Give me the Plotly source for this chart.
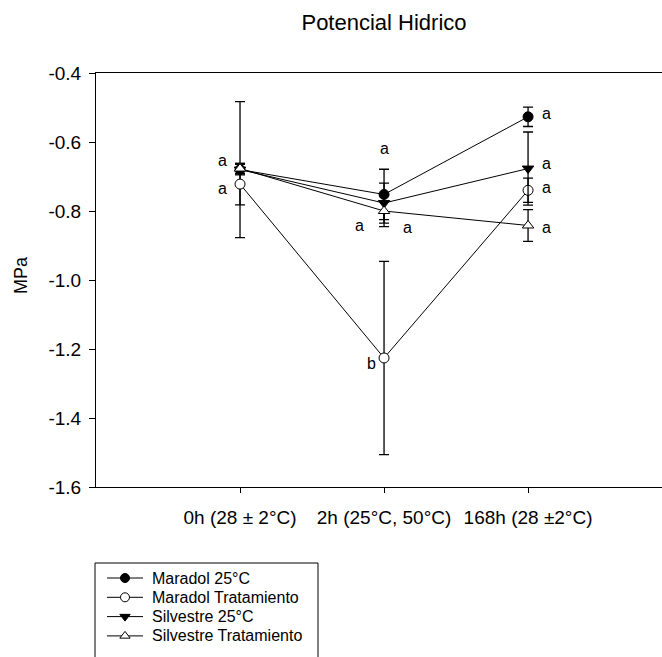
import plotly.graph_objects as go

categories = ["0h (28 ± 2°C)", "2h (25°C, 50°C)", "168h (28 ±2°C)"]
x_pos = [0, 1, 2]

y_ticks = [-1.6, -1.4, -1.2, -1.0, -0.8, -0.6, -0.4]
y_tick_labels = ["-1.6", "-1.4", "-1.2", "-1.0", "-0.8", "-0.6", "-0.4"]

series_names = ["Maradol 25°C", "Maradol Tratamiento", "Silvestre 25°C", "Silvestre Tratamiento"]
maradol_25 = [-0.68, -0.752, -0.527]
maradol_25_err = [0.197, 0.073, 0.028]
maradol_trat = [-0.722, -1.226, -0.74]
maradol_trat_err = [0.06, 0.28, 0.035]
silvestre_25 = [-0.68, -0.777, -0.677]
silvestre_25_err = [0.015, 0.058, 0.106]
silvestre_trat = [-0.677, -0.80, -0.842]
silvestre_trat_err = [0.015, 0.045, 0.046]

# significance letters
letter_x = [-0.125, -0.125, 1.0, 0.83, 1.16, 0.915, 2.13, 2.13, 2.13, 2.13]
letter_y = [-0.653, -0.735, -0.618, -0.842, -0.848, -1.243, -0.516, -0.662, -0.732, -0.848]
letter_t = ["a", "a", "a", "a", "a", "b", "a", "a", "a", "a"]

FONT = "Liberation Sans, Arial, sans-serif"
W, H = 662, 657

styles = [
    dict(symbol="circle", color="black"),
    dict(symbol="circle", color="white"),
    dict(symbol="triangle-down", color="black"),
    dict(symbol="triangle-up", color="white"),
]
values = [maradol_25, maradol_trat, silvestre_25, silvestre_trat]
errors = [maradol_25_err, maradol_trat_err, silvestre_25_err, silvestre_trat_err]

fig = go.Figure()
for name, vals, errs, st in zip(series_names, values, errors, styles):
    fig.add_trace(go.Scatter(
        x=x_pos, y=vals, name=name, mode="lines+markers", showlegend=False,
        line=dict(color="black", width=1),
        marker=dict(symbol=st["symbol"], color=st["color"], size=10,
                    line=dict(color="black", width=1)),
        error_y=dict(type="data", array=errs, visible=True, color="black",
                     thickness=1.3, width=5),
        xaxis="x", yaxis="y",
    ))

for lx, ly, lt in zip(letter_x, letter_y, letter_t):
    fig.add_annotation(x=lx, y=ly, text=lt, showarrow=False, xref="x", yref="y",
                       xanchor="center", yanchor="middle",
                       font=dict(family=FONT, size=16, color="black"))

# ---- legend drawn on a pixel-unit helper subplot (layout positions) ----
LEG_AREA_TOP = 552
leg_left, leg_top, leg_right = 95, 563, 318
row0, row_gap = 578, 19.3
sym_x0, sym_x1, text_x = 107, 143, 150
for i, (name, st) in enumerate(zip(series_names, styles)):
    ry = row0 + i * row_gap
    fig.add_trace(go.Scatter(
        x=[sym_x0, sym_x1], y=[ry, ry], mode="lines", showlegend=False,
        line=dict(color="black", width=1), xaxis="x2", yaxis="y2", hoverinfo="skip"))
    fig.add_trace(go.Scatter(
        x=[(sym_x0 + sym_x1) / 2], y=[ry], mode="markers", showlegend=False,
        marker=dict(symbol=st["symbol"], color=st["color"], size=9,
                    line=dict(color="black", width=1)),
        xaxis="x2", yaxis="y2", hoverinfo="skip"))
    fig.add_annotation(x=text_x, y=ry, text=name, showarrow=False, xref="x2", yref="y2",
                       xanchor="left", yanchor="middle",
                       font=dict(family=FONT, size=16, color="black"))
fig.add_shape(type="rect", xref="x2", yref="y2", x0=leg_left, x1=leg_right,
              y0=leg_top, y1=H + 20, line=dict(color="black", width=1))

fig.add_annotation(x=21 / W, y=(H - 275) / H, xref="paper", yref="paper", text="MPa",
                   textangle=-90, showarrow=False, xanchor="center", yanchor="middle",
                   font=dict(family=FONT, size=18, color="black"))

PLOT_L, PLOT_T, PLOT_B = 96, 73, 487

fig.update_layout(
    width=W, height=H,
    margin=dict(l=0, r=0, t=0, b=0),
    paper_bgcolor="white", plot_bgcolor="rgba(0,0,0,0)",
    font=dict(family=FONT, size=19, color="black"),
    title=dict(text="Potencial Hidrico", x=384 / W, xanchor="center",
               y=1 - 22 / H, yanchor="middle",
               font=dict(family=FONT, size=22, color="black")),
    showlegend=False,
    xaxis=dict(domain=[PLOT_L / W, 1.0], range=[-1, 2.93], tickvals=x_pos,
               ticktext=categories, anchor="y", automargin=False,
               showgrid=False, zeroline=False, showline=True, linecolor="black",
               linewidth=1, mirror=True, ticks="outside", ticklen=5,
               tickcolor="black", ticklabelstandoff=8,
               tickfont=dict(family=FONT, size=19)),
    yaxis=dict(domain=[(H - PLOT_B) / H, (H - PLOT_T) / H], range=[-1.6, -0.4],
               tickvals=y_ticks, ticktext=y_tick_labels, anchor="x", automargin=False,
               showgrid=False, zeroline=False, showline=True, linecolor="black",
               linewidth=1, ticks="outside", ticklen=6, tickcolor="black",
               ticklabelstandoff=4, tickfont=dict(family=FONT, size=19)),
    xaxis2=dict(domain=[0, 1], range=[0, W], visible=False, anchor="y2",
                fixedrange=True),
    yaxis2=dict(domain=[0, (H - LEG_AREA_TOP) / H], range=[H, LEG_AREA_TOP],
                visible=False, anchor="x2", fixedrange=True),
)

fig.write_html("out.html")
